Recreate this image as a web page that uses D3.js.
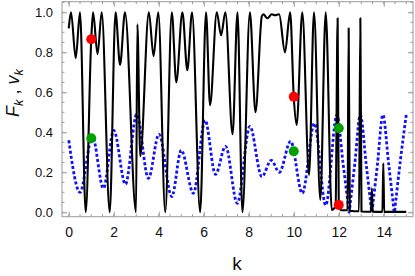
<!DOCTYPE html>
<html><head><meta charset="utf-8">
<script src="https://cdn.jsdelivr.net/npm/d3@7"></script>
<style>body{margin:0;background:#fff}svg{display:block}</style>
</head><body>
<svg id="c" width="415" height="276"></svg>
<script>
// Black solid curve F_k : [k, F]
const fK = [0,0.1,0.31,0.50,0.754,1.0,1.08,1.28,1.465,1.82,2.08,2.28,2.50,2.99,3.05,3.18,3.56,3.77,3.98,4.29,4.58,4.78,5.05,5.27,5.48,5.84,6.10,6.28,6.58,6.77,6.96,7.28,7.50,7.72,8.05,8.30,8.58,8.65,8.83,9.02,9.17,9.35,9.61,9.84,10.0,10.13,10.38,10.68,10.90,11.18,11.42,11.69,11.86,11.95,12.0,12.1,12.39,12.44,12.49,12.9,12.96,13.01,13.43,13.47,13.51,13.94,13.98,14.02,15.0];
const fV = [0.92,1.0,0.77,1.0,0.0,0.865,1.0,0.79,1.0,0.0,1.0,0.737,1.0,0.0,0.94,0.28,1.0,0.78,1.0,0.0,1.0,0.65,1.0,0.71,1.0,0.0,1.0,0.535,1.0,0.885,1.0,0.39,1.0,0.0,1.0,0.50,0.98,0.99,0.97,0.99,0.985,0.99,0.80,1.0,0.578,0.437,1.0,0.187,1.0,0.062,1.0,0.012,0.03,0.97,0.037,0.01,0.01,0.92,0.008,0.005,0.97,0.004,0.003,0.12,0.003,0.002,0.245,0.002,0.002];
// Blue dotted curve v_k : [k, v]
const vK = [0,0.5,1.05,1.54,2.0,2.52,3.02,3.54,4.01,4.58,5.0,5.54,6.06,6.52,6.97,7.49,8.05,8.58,9.0,9.36,9.86,10.38,10.92,11.42,11.92,12.19,12.40,12.46,12.52,12.71,12.96,13.22,13.41,13.47,13.53,13.72,13.96,14.22,14.41,14.47,14.53,14.74,15.0];
const vV = [0.36,0.10,0.38,0.12,0.41,0.14,0.49,0.17,0.39,0.078,0.31,0.095,0.46,0.19,0.33,0.045,0.43,0.178,0.26,0.20,0.355,0.095,0.445,0.035,0.487,0.245,0.055,0.0,0.055,0.24,0.487,0.24,0.055,0.0,0.055,0.24,0.487,0.24,0.055,0.0,0.055,0.26,0.487];
// Marked points
const redK = [1,10,12], redV = [0.865,0.578,0.037];
const greenK = [1,10,12], greenV = [0.37,0.305,0.42];
// Ticks
const xTicks = [0,2,4,6,8,10,12,14];
const xMinor = d3.range(0,15.01,0.5);
const yTicks = [0,0.2,0.4,0.6,0.8,1.0];
const yTickLabels = ["0.0","0.2","0.4","0.6","0.8","1.0"];
const yMinor = d3.range(0,1.051,0.05);

const L=62,R=413,T=1.7,B=216.7;
const x = d3.scaleLinear().domain([-0.3,15.3]).range([L,R]);
const y = d3.scaleLinear().domain([-0.022,1.053]).range([B,T]);
const svg = d3.select("#c");
svg.append("defs").append("clipPath").attr("id","clip").append("rect")
  .attr("x",L).attr("y",T).attr("width",R-L).attr("height",B-T);

const frameCol="#9a9a9a";
const g = svg.append("g");
// minor ticks
g.selectAll(".xm").data(xMinor).join("line")
  .attr("x1",d=>x(d)).attr("x2",d=>x(d)).attr("y1",B).attr("y2",B-2.5).attr("stroke",frameCol);
g.selectAll(".xmt").data(xMinor).join("line")
  .attr("x1",d=>x(d)).attr("x2",d=>x(d)).attr("y1",T).attr("y2",T+2.5).attr("stroke",frameCol);
g.selectAll(".ym").data(yMinor).join("line")
  .attr("y1",d=>y(d)).attr("y2",d=>y(d)).attr("x1",L).attr("x2",L+2.5).attr("stroke",frameCol);
g.selectAll(".ymr").data(yMinor).join("line")
  .attr("y1",d=>y(d)).attr("y2",d=>y(d)).attr("x1",R).attr("x2",R-2.5).attr("stroke",frameCol);

// major axes
const ax = svg.append("g").attr("transform",`translate(0,${B})`)
  .call(d3.axisBottom(x).tickValues(xTicks).tickSizeInner(-5).tickSizeOuter(0).tickPadding(10));
const axT = svg.append("g").attr("transform",`translate(0,${T})`)
  .call(d3.axisTop(x).tickValues(xTicks).tickSizeInner(-5).tickSizeOuter(0).tickFormat(""));
const ay = svg.append("g").attr("transform",`translate(${L},0)`)
  .call(d3.axisLeft(y).tickValues(yTicks).tickSizeInner(-5).tickSizeOuter(0).tickPadding(9)
  .tickFormat((d,i)=>yTickLabels[i]));
const ayR = svg.append("g").attr("transform",`translate(${R},0)`)
  .call(d3.axisRight(y).tickValues(yTicks).tickSizeInner(-5).tickSizeOuter(0).tickFormat(""));
[ax,axT,ay,ayR].forEach(a=>{
  a.select(".domain").remove();
  a.selectAll("line").attr("stroke",frameCol);
  a.selectAll("text").attr("fill","#111").style("font-family","Liberation Sans, Arial, sans-serif").style("font-size","13px");
});
ax.selectAll("text").style("font-size","14px");
svg.append("rect").attr("x",L).attr("y",T).attr("width",R-L).attr("height",B-T)
  .attr("fill","none").attr("stroke",frameCol).attr("stroke-width",1);

// curves
const line = d3.line().x(d=>x(d[0])).y(d=>y(d[1])).curve(d3.curveMonotoneX);
const plot = svg.append("g").attr("clip-path","url(#clip)");
plot.append("path").datum(vK.map((k,i)=>[k,vV[i]]))
  .attr("d",line).attr("fill","none").attr("stroke","#1010ff").attr("stroke-width",2.8)
  .attr("stroke-dasharray","3,2.2");
plot.append("path").datum(fK.map((k,i)=>[k,fV[i]]))
  .attr("d",line).attr("fill","none").attr("stroke","#000").attr("stroke-width",2.1)
  .attr("stroke-linejoin","round");

svg.selectAll(".red").data(redK.map((k,i)=>[k,redV[i]])).join("circle")
  .attr("cx",d=>x(d[0])).attr("cy",d=>y(d[1])).attr("r",5).attr("fill","#ff0000");
svg.selectAll(".green").data(greenK.map((k,i)=>[k,greenV[i]])).join("circle")
  .attr("cx",d=>x(d[0])).attr("cy",d=>y(d[1])).attr("r",5).attr("fill","#00a000");

// axis labels
svg.append("text").attr("x",237).attr("y",270).attr("text-anchor","middle")
  .style("font-family","Liberation Sans, Arial, sans-serif").style("font-size","19px").attr("fill","#111").text("k");
const yl = svg.append("text").attr("transform","translate(19,93) rotate(-90)").attr("text-anchor","middle")
  .style("font-family","Liberation Sans, Arial, sans-serif").style("font-size","18px").attr("fill","#111");
yl.append("tspan").style("font-style","italic").text("F");
yl.append("tspan").attr("dy",4).style("font-size","13px").style("font-style","italic").text("k");
yl.append("tspan").attr("dy",-4).text(" , ");
yl.append("tspan").style("font-style","italic").text("v");
yl.append("tspan").attr("dy",4).style("font-size","13px").style("font-style","italic").text("k");
</script>
</body></html>
